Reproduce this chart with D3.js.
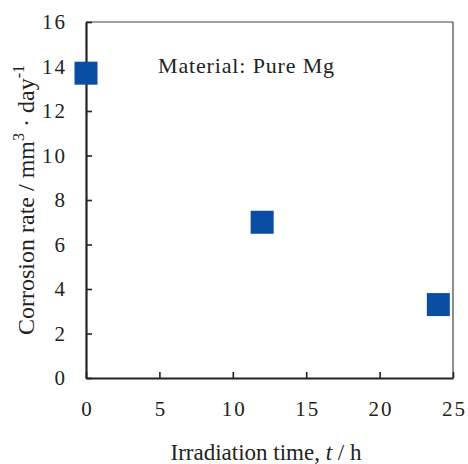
<!DOCTYPE html>
<html>
<head>
<meta charset="utf-8">
<script src="https://cdn.jsdelivr.net/npm/d3@7"></script>
<style>
  body { margin: 0; background: #fff; }
  text { font-family: "Liberation Serif", "Times New Roman", serif; fill: #222; }
</style>
</head>
<body>
<div id="chart"></div>
<script>
const time_h = [0, 12, 24];
const corrosion_rate = [13.7, 7.0, 3.3];
const x_ticks = [0, 5, 10, 15, 20, 25];
const y_ticks = [0, 2, 4, 6, 8, 10, 12, 14, 16];

const W = 468, H = 464;
const margin = {top: 22, right: 15, bottom: 86, left: 86};
const iw = W - margin.left - margin.right,
      ih = H - margin.top - margin.bottom;

const svg = d3.select("#chart").append("svg")
    .attr("width", W).attr("height", H);

const g = svg.append("g")
    .attr("transform", "translate(" + margin.left + "," + margin.top + ")");

const x = d3.scaleLinear().domain([0, 25]).range([0, iw]);
const y = d3.scaleLinear().domain([0, 16]).range([ih, 0]);

// frame top/right (thin)
g.append("line").attr("x1", 0).attr("x2", iw).attr("y1", 0).attr("y2", 0)
    .attr("stroke", "#444").attr("stroke-width", 1.2);
g.append("line").attr("x1", iw).attr("x2", iw).attr("y1", 0).attr("y2", ih)
    .attr("stroke", "#444").attr("stroke-width", 1.2);

// axes
const xAxis = g.append("g")
    .attr("transform", "translate(0," + ih + ")")
    .call(d3.axisBottom(x).tickValues(x_ticks).tickSizeInner(-6).tickSizeOuter(0).tickPadding(23));
const yAxis = g.append("g")
    .call(d3.axisLeft(y).tickValues(y_ticks).tickSizeInner(-6).tickSizeOuter(0).tickPadding(19));

[xAxis, yAxis].forEach(function(a){
    a.select(".domain").attr("stroke", "#222").attr("stroke-width", 2.2);
    a.selectAll(".tick line").attr("stroke", "#222").attr("stroke-width", 1.6);
    a.selectAll(".tick text")
        .style("font-family", "'Liberation Serif', serif")
        .style("font-size", "21px")
        .style("letter-spacing", "2px")
        .attr("fill", "#222");
});
// keep x labels centred despite trailing letter spacing
xAxis.selectAll(".tick text").attr("dx", 1);

// points
const sz = 23;
g.selectAll(".pt")
    .data(time_h)
    .enter().append("rect")
    .attr("class", "pt")
    .attr("x", function(d){ return x(d) - sz / 2; })
    .attr("y", function(d, i){ return y(corrosion_rate[i]) - sz / 2; })
    .attr("width", sz).attr("height", sz)
    .attr("fill", "#0a4ea4");

// annotation
g.append("text")
    .attr("x", 72).attr("y", 51)
    .style("font-size", "22px")
    .style("letter-spacing", "0.85px")
    .text("Material: Pure Mg");

// x title
const xt = svg.append("text")
    .attr("x", 266).attr("y", 460)
    .attr("text-anchor", "middle")
    .style("font-size", "23px");
xt.append("tspan").text("Irradiation time, ");
xt.append("tspan").style("font-style", "italic").text("t");
xt.append("tspan").text(" / h");

// y title
const yt = svg.append("text")
    .attr("transform", "translate(34,200) rotate(-90)")
    .attr("text-anchor", "middle")
    .style("font-size", "24px");
yt.append("tspan").text("Corrosion rate / mm");
yt.append("tspan").attr("dy", -10).style("font-size", "16px").text("3");
yt.append("tspan").attr("dy", 10).text(" · day");
yt.append("tspan").attr("dy", -10).style("font-size", "16px").text("-1");
</script>
</body>
</html>
